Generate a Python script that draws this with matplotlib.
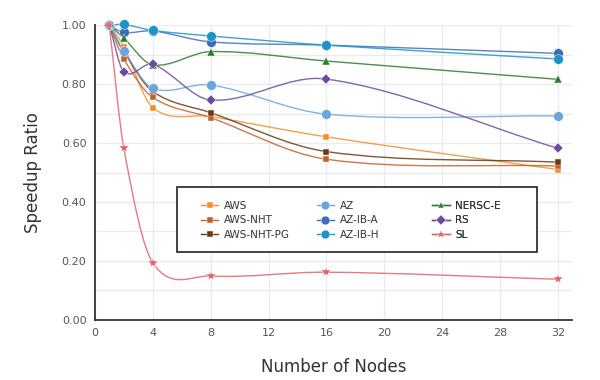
import numpy as np
import matplotlib
matplotlib.use("Agg")
import matplotlib.pyplot as plt
from matplotlib.path import Path
from matplotlib.patches import PathPatch, Rectangle
from matplotlib.lines import Line2D

# data
nodes = [1, 2, 4, 8, 16, 32]
aws = [1.0, 0.927, 0.72, 0.69, 0.621, 0.51]
aws_nht = [1.0, 0.885, 0.755, 0.686, 0.545, 0.522]
aws_nht_pg = [1.0, 0.91, 0.775, 0.703, 0.571, 0.535]
az = [1.0, 0.913, 0.786, 0.797, 0.698, 0.692]
az_ib_a = [1.0, 0.975, 0.98, 0.943, 0.932, 0.904]
az_ib_h = [1.0, 1.002, 0.982, 0.963, 0.932, 0.885]
nersc_e = [1.0, 0.956, 0.865, 0.91, 0.878, 0.816]
rs = [1.0, 0.842, 0.867, 0.746, 0.817, 0.582]
sl = [1.0, 0.584, 0.194, 0.149, 0.162, 0.138]

labels = ["AWS", "AWS-NHT", "AWS-NHT-PG", "AZ", "AZ-IB-A", "AZ-IB-H",
          "NERSC-E", "RS", "SL"]
series = [aws, aws_nht, aws_nht_pg, az, az_ib_a, az_ib_h, nersc_e, rs, sl]
colors = ["#f0902c", "#c0622a", "#6b3815", "#6aa6dc", "#3f6cba", "#1a95c6",
          "#2c7a33", "#6a4b9e", "#e0646a"]
markers = ["s", "s", "s", "o", "o", "o", "^", "D", "*"]
msizes = [5, 5, 5, 7, 7, 7, 5.5, 5.5, 7]


def smooth_path(x, y):
    # cubic hermite through the points, drawn as bezier segments
    x = np.asarray(x, float)
    y = np.asarray(y, float)
    n = len(x)
    m = np.zeros(n)
    for i in range(n):
        if i == 0:
            m[i] = (y[1] - y[0]) / (x[1] - x[0])
        elif i == n - 1:
            m[i] = (y[-1] - y[-2]) / (x[-1] - x[-2])
        else:
            m[i] = (y[i + 1] - y[i - 1]) / (x[i + 1] - x[i - 1])
    verts = [(x[0], y[0])]
    codes = [Path.MOVETO]
    for i in range(n - 1):
        h = x[i + 1] - x[i]
        verts += [(x[i] + h / 3, y[i] + m[i] * h / 3),
                  (x[i + 1] - h / 3, y[i + 1] - m[i + 1] * h / 3),
                  (x[i + 1], y[i + 1])]
        codes += [Path.CURVE4] * 3
    return Path(verts, codes)


fig = plt.figure(figsize=(6, 3.8), dpi=100)
ax = fig.add_axes([0.158, 0.158, 0.795, 0.776])

for vals, c, mk, ms in zip(series, colors, markers, msizes):
    ax.add_patch(PathPatch(smooth_path(nodes, vals), facecolor="none",
                           edgecolor=c, lw=1.0, alpha=0.85, clip_on=False,
                           zorder=3))
    ax.plot(nodes, vals, ls="none", marker=mk, ms=ms, color=c,
            mec="white", mew=0.3, clip_on=False, zorder=4)

ax.set_xlim(0, 32.95)
ax.set_ylim(0, 1.0)
ax.set_xticks(range(0, 33, 4))
ax.set_yticks(np.arange(0, 1.01, 0.2))
ax.set_yticks(np.arange(0.1, 1.0, 0.2), minor=True)
ax.set_yticklabels([f"{v:.2f}" for v in np.arange(0, 1.01, 0.2)])
ax.grid(True, which="both", color="#ebebeb", lw=1.0)
ax.set_axisbelow(True)
ax.tick_params(which="both", length=0, labelsize=8, colors="#555555", pad=6)

for s in ["top", "right"]:
    ax.spines[s].set_visible(False)
for s in ["left", "bottom"]:
    ax.spines[s].set_color("#333333")
    ax.spines[s].set_linewidth(1.3)

ax.set_xlabel("Number of Nodes", fontsize=12, color="#333333", labelpad=14)
ax.set_ylabel("Speedup Ratio", fontsize=12, color="#333333", labelpad=14)

# legend: framed box with three fixed columns
ax.add_patch(Rectangle((0.295, 0.337), 0.6, 0.171, transform=fig.transFigure,
                       facecolor="white", edgecolor="#222222", lw=1.2,
                       clip_on=False, zorder=5))
col_x = [0.222, 0.465, 0.707]
for k, x0 in enumerate(col_x):
    idx = range(3 * k, 3 * k + 3)
    handles = [Line2D([], [], color=colors[i], marker=markers[i],
                      ms=msizes[i] * 0.9, lw=1.0, mec="white", mew=0.3)
               for i in idx]
    leg = ax.legend(handles, [labels[i] for i in idx], loc="upper left",
                    bbox_to_anchor=(x0, 0.405), frameon=False, fontsize=7.5,
                    borderpad=0, borderaxespad=0, handlelength=1.7,
                    handletextpad=0.5, labelspacing=0.45)
    leg.set_zorder(6)
    for t in leg.get_texts():
        t.set_color("#333333")
    ax.add_artist(leg)

fig.savefig("out.png", dpi=100)
